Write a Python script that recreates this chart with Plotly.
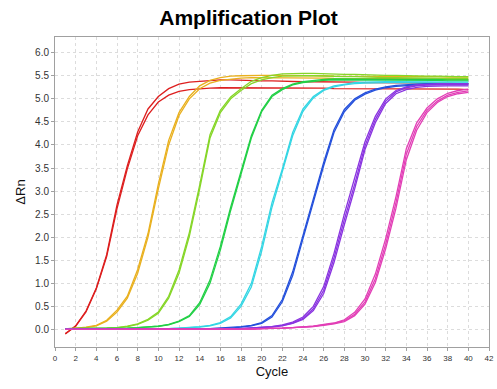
import plotly.graph_objects as go

cycles = list(range(1, 41))

red_1 = [-0.10, 0.08, 0.40, 0.90, 1.62, 2.70, 3.55, 4.28, 4.78, 5.05, 5.22, 5.32, 5.36, 5.38, 5.40, 5.41, 5.41, 5.40, 5.40, 5.39,
         5.39, 5.38, 5.38, 5.37, 5.37, 5.37, 5.36, 5.36, 5.36, 5.35, 5.35, 5.35, 5.35, 5.34, 5.34, 5.34, 5.34, 5.34, 5.33, 5.33]
red_2 = [-0.09, 0.07, 0.38, 0.88, 1.58, 2.62, 3.48, 4.20, 4.65, 4.93, 5.08, 5.16, 5.20, 5.22, 5.23, 5.24, 5.24, 5.24, 5.24, 5.24,
         5.23, 5.23, 5.23, 5.23, 5.23, 5.23, 5.22, 5.22, 5.22, 5.22, 5.22, 5.22, 5.22, 5.21, 5.21, 5.21, 5.21, 5.21, 5.21, 5.20]

orange_1 = [0.00, 0.02, 0.05, 0.09, 0.20, 0.42, 0.72, 1.30, 2.08, 3.15, 4.10, 4.70, 5.05, 5.28, 5.40, 5.46, 5.49, 5.50, 5.51, 5.51,
            5.51, 5.51, 5.50, 5.50, 5.50, 5.50, 5.49, 5.49, 5.49, 5.49, 5.49, 5.48, 5.48, 5.48, 5.48, 5.48, 5.48, 5.47, 5.47, 5.47]
orange_2 = [0.01, 0.02, 0.04, 0.08, 0.18, 0.38, 0.68, 1.22, 2.00, 3.05, 4.00, 4.64, 5.00, 5.22, 5.34, 5.40, 5.43, 5.45, 5.46, 5.46,
            5.46, 5.46, 5.45, 5.45, 5.45, 5.45, 5.44, 5.44, 5.44, 5.44, 5.44, 5.43, 5.43, 5.43, 5.43, 5.43, 5.43, 5.42, 5.42, 5.42]

lime_1 = [0.02, 0.02, 0.02, 0.02, 0.03, 0.04, 0.07, 0.12, 0.22, 0.38, 0.72, 1.29, 2.10, 3.13, 4.22, 4.75, 5.04, 5.22, 5.38, 5.46,
          5.51, 5.54, 5.55, 5.55, 5.55, 5.54, 5.54, 5.53, 5.53, 5.52, 5.52, 5.51, 5.51, 5.50, 5.50, 5.49, 5.49, 5.48, 5.48, 5.48]
lime_2 = [0.02, 0.02, 0.02, 0.02, 0.03, 0.04, 0.06, 0.11, 0.20, 0.35, 0.68, 1.22, 2.02, 3.05, 4.15, 4.70, 5.00, 5.18, 5.33, 5.41,
          5.46, 5.49, 5.50, 5.50, 5.50, 5.49, 5.49, 5.48, 5.48, 5.47, 5.47, 5.46, 5.46, 5.46, 5.45, 5.45, 5.45, 5.44, 5.44, 5.44]

green_1 = [0.02, 0.02, 0.02, 0.02, 0.02, 0.02, 0.03, 0.04, 0.05, 0.07, 0.11, 0.18, 0.30, 0.58, 1.07, 1.80, 2.65, 3.40, 4.20, 4.75,
           5.08, 5.22, 5.32, 5.37, 5.40, 5.42, 5.43, 5.43, 5.43, 5.43, 5.43, 5.43, 5.42, 5.42, 5.42, 5.42, 5.42, 5.41, 5.41, 5.41]
green_2 = [0.02, 0.02, 0.02, 0.02, 0.02, 0.02, 0.03, 0.04, 0.05, 0.07, 0.10, 0.17, 0.28, 0.54, 1.00, 1.72, 2.58, 3.35, 4.15, 4.72,
           5.05, 5.20, 5.30, 5.35, 5.38, 5.40, 5.41, 5.41, 5.41, 5.41, 5.41, 5.41, 5.40, 5.40, 5.40, 5.40, 5.40, 5.39, 5.39, 5.39]

cyan_1 = [0.01, 0.01, 0.01, 0.01, 0.01, 0.01, 0.01, 0.01, 0.02, 0.02, 0.02, 0.03, 0.04, 0.06, 0.09, 0.15, 0.28, 0.55, 1.00, 1.80,
          2.75, 3.48, 4.27, 4.78, 5.05, 5.20, 5.28, 5.32, 5.35, 5.36, 5.37, 5.37, 5.37, 5.37, 5.37, 5.37, 5.36, 5.36, 5.36, 5.36]
cyan_2 = [0.01, 0.01, 0.01, 0.01, 0.01, 0.01, 0.01, 0.01, 0.02, 0.02, 0.02, 0.03, 0.04, 0.05, 0.08, 0.13, 0.25, 0.50, 0.92, 1.70,
          2.65, 3.40, 4.20, 4.73, 5.02, 5.18, 5.26, 5.30, 5.33, 5.34, 5.35, 5.35, 5.35, 5.35, 5.35, 5.35, 5.34, 5.34, 5.34, 5.34]

blue_1 = [0.00, 0.00, 0.00, 0.00, 0.00, 0.00, 0.00, 0.00, 0.00, 0.00, 0.01, 0.01, 0.01, 0.01, 0.02, 0.03, 0.04, 0.06, 0.09, 0.15,
          0.30, 0.65, 1.25, 2.05, 2.82, 3.62, 4.33, 4.77, 5.00, 5.13, 5.21, 5.26, 5.29, 5.31, 5.32, 5.33, 5.33, 5.33, 5.33, 5.33]
blue_2 = [0.00, 0.00, 0.00, 0.00, 0.00, 0.00, 0.00, 0.00, 0.00, 0.00, 0.01, 0.01, 0.01, 0.01, 0.02, 0.02, 0.03, 0.05, 0.08, 0.13,
          0.27, 0.60, 1.17, 1.97, 2.75, 3.55, 4.27, 4.72, 4.97, 5.10, 5.19, 5.24, 5.27, 5.29, 5.30, 5.31, 5.31, 5.31, 5.31, 5.31]

purple_1 = [0.00, 0.00, 0.00, 0.00, 0.00, 0.00, 0.00, 0.00, 0.00, 0.00, 0.00, 0.00, 0.00, 0.00, 0.00, 0.01, 0.01, 0.02, 0.03, 0.04,
            0.06, 0.09, 0.14, 0.24, 0.45, 0.85, 1.55, 2.38, 3.15, 3.98, 4.55, 4.95, 5.15, 5.24, 5.28, 5.30, 5.31, 5.31, 5.31, 5.31]
purple_2 = [0.00, 0.00, 0.00, 0.00, 0.00, 0.00, 0.00, 0.00, 0.00, 0.00, 0.00, 0.00, 0.00, 0.00, 0.00, 0.01, 0.01, 0.02, 0.03, 0.04,
            0.05, 0.08, 0.13, 0.22, 0.41, 0.78, 1.45, 2.27, 3.05, 3.90, 4.48, 4.90, 5.11, 5.20, 5.25, 5.27, 5.28, 5.28, 5.28, 5.28]
purple_3 = [0.00, 0.00, 0.00, 0.00, 0.00, 0.00, 0.00, 0.00, 0.00, 0.00, 0.00, 0.00, 0.00, 0.00, 0.00, 0.01, 0.01, 0.02, 0.03, 0.04,
            0.06, 0.10, 0.16, 0.27, 0.50, 0.93, 1.65, 2.50, 3.27, 4.07, 4.62, 5.00, 5.18, 5.26, 5.30, 5.32, 5.33, 5.33, 5.33, 5.33]

magenta_1 = [0.00, 0.00, 0.00, 0.00, 0.00, 0.00, 0.00, 0.00, 0.00, 0.00, 0.00, 0.00, 0.00, 0.00, 0.00, 0.00, 0.01, 0.01, 0.01, 0.02,
             0.02, 0.03, 0.04, 0.05, 0.07, 0.10, 0.13, 0.19, 0.33, 0.60, 1.10, 1.85, 2.75, 3.80, 4.40, 4.75, 4.95, 5.08, 5.14, 5.17]
magenta_2 = [0.00, 0.00, 0.00, 0.00, 0.00, 0.00, 0.00, 0.00, 0.00, 0.00, 0.00, 0.00, 0.00, 0.00, 0.00, 0.00, 0.01, 0.01, 0.01, 0.02,
             0.02, 0.03, 0.04, 0.05, 0.06, 0.09, 0.12, 0.17, 0.30, 0.55, 1.02, 1.75, 2.63, 3.68, 4.32, 4.70, 4.92, 5.05, 5.11, 5.14]
magenta_3 = [0.00, 0.00, 0.00, 0.00, 0.00, 0.00, 0.00, 0.00, 0.00, 0.00, 0.00, 0.00, 0.00, 0.00, 0.00, 0.00, 0.01, 0.01, 0.01, 0.02,
             0.02, 0.03, 0.04, 0.05, 0.07, 0.11, 0.14, 0.21, 0.37, 0.66, 1.20, 1.97, 2.88, 3.92, 4.48, 4.80, 5.00, 5.12, 5.18, 5.21]

x_ticks = list(range(0, 43, 2))
y_ticks = [0.0, 0.5, 1.0, 1.5, 2.0, 2.5, 3.0, 3.5, 4.0, 4.5, 5.0, 5.5, 6.0]

groups = [
    ("#dd1f1f", [red_1, red_2]),
    ("#e9b01e", [orange_1, orange_2]),
    ("#86d628", [lime_1, lime_2]),
    ("#22d046", [green_1, green_2]),
    ("#33d6e4", [cyan_1, cyan_2]),
    ("#2450dc", [blue_1, blue_2]),
    ("#8a34e0", [purple_1, purple_2, purple_3]),
    ("#e23fb6", [magenta_1, magenta_2, magenta_3]),
]

FONT = "Liberation Sans, Arial, sans-serif"

fig = go.Figure()
for color, reps in groups:
    for ys in reps:
        fig.add_trace(go.Scatter(x=cycles, y=ys, mode="lines",
                                 line=dict(color=color, width=1.3),
                                 showlegend=False, hoverinfo="skip"))

axis_common = dict(
    showline=True, linecolor="#a0a0a0", linewidth=1, mirror=True,
    showgrid=True, gridcolor="#dcdcdc", griddash="3px,3px", gridwidth=1,
    zeroline=False, ticks="outside", ticklen=3, tickcolor="#a0a0a0",
)

fig.update_xaxes(range=[0, 42], tickvals=x_ticks, ticktext=[str(v) for v in x_ticks],
                 tickfont=dict(family=FONT, size=8, color="#333333"),
                 title=dict(text="Cycle", font=dict(family=FONT, size=13, color="#111"), standoff=5),
                 **axis_common)
fig.update_yaxes(range=[-0.38, 6.34], tickvals=y_ticks, ticktext=[f"{v:.1f}" for v in y_ticks],
                 tickfont=dict(family=FONT, size=10, color="#333333"),
                 title=dict(text="ΔRn", font=dict(family=FONT, size=13, color="#111"), standoff=6),
                 **axis_common)

fig.update_layout(
    width=497, height=389,
    margin=dict(l=55, r=8, t=37, b=42, autoexpand=False),
    paper_bgcolor="white", plot_bgcolor="white",
    title=dict(text="<b>Amplification Plot</b>", x=0.5, xanchor="center", y=0.955, yanchor="middle",
               font=dict(family=FONT, size=21, color="#000")),
)

fig.write_html("out.html", config={"displayModeBar": False},
               post_script="document.body.style.margin='0';document.body.style.padding='0';")
